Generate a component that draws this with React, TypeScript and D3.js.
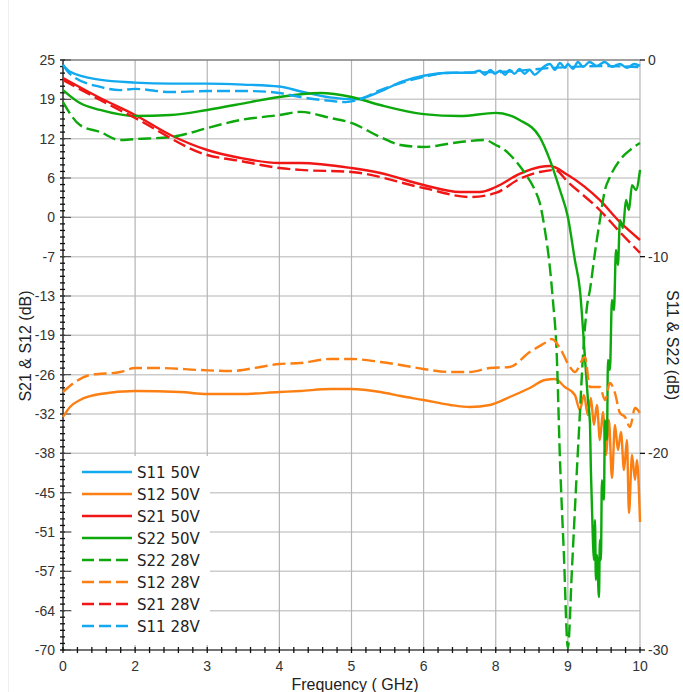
import React from "react";
import * as d3 from "d3";

// frequency tick labels (the source chart skips 1 and 7 GHz)
const freqTicks = [0, 2, 3, 4, 5, 6, 8, 9, 10];
const leftTickLabels = ["25", "19", "12", "6", "0", "-7", "-13", "-19", "-26", "-32", "-38", "-45", "-51", "-57", "-64", "-70"];
const rightTicks = [0, -10, -20, -30];

// [GHz, dB] -- S11 / S22 on right axis, S21 / S12 on left axis
const s11_50 = [
  [0, -0.25], [0.2, -0.6], [1, -1.0], [2, -1.15], [2.5, -1.2], [3, -1.2], [3.5, -1.25], [4, -1.35],
  [4.3, -1.6], [4.7, -1.9], [5.05, -2.0], [5.4, -1.6], [5.7, -1.1], [6, -0.8], [6.75, -0.65], [7.3, -0.65],
  [7.55, -0.55], [7.7, -0.75], [7.85, -0.5], [7.97, -0.7], [8.06, -0.55], [8.13, -0.75], [8.19, -0.5],
  [8.26, -0.7], [8.33, -0.45], [8.4, -0.7], [8.47, -0.5], [8.54, -0.75], [8.61, -0.55], [8.68, -0.3],
  [8.75, -0.2], [8.82, -0.5], [8.89, -0.15], [8.96, -0.4], [9, -0.2], [9.07, -0.45], [9.14, -0.1],
  [9.21, -0.35], [9.3, -0.1], [9.4, -0.3], [9.51, -0.1], [9.61, -0.35], [9.72, -0.2], [9.82, -0.4],
  [9.92, -0.2], [10, -0.3],
];
const s11_28 = [
  [0, -0.25], [0.19, -0.71], [1.03, -1.37], [1.58, -1.53], [2, -1.47], [2.49, -1.63], [3, -1.58],
  [3.6, -1.58], [4, -1.68], [4.29, -1.88], [4.71, -2.08], [4.92, -2.14], [5.13, -1.98], [5.4, -1.53],
  [5.68, -1.17], [6, -0.86], [6.63, -0.66], [8.06, -0.61], [8.75, -0.41], [9.44, -0.31], [10, -0.36],
];
const s21_50 = [
  [0, 22.1], [1.03, 18.88], [2, 16.14], [2.49, 12.93], [3, 10.51], [3.46, 9.22], [4, 8.42], [4.29, 8.42],
  [5, 7.61], [5.4, 6.81], [6, 4.87], [7.01, 3.75], [7.56, 3.75], [8, 4.55], [8.33, 6.65], [8.61, 7.77],
  [8.75, 7.93], [9, 6.48], [9.44, 2.46], [9.72, -1.08], [10, -3.98],
];
const s21_28 = [
  [0, 21.78], [1.03, 18.56], [2, 15.66], [3, 9.7], [3.46, 8.74], [4, 7.61], [4.29, 7.3], [5, 6.97],
  [6, 4.39], [7.29, 2.94], [8, 3.59], [8.33, 5.84], [8.61, 6.97], [8.82, 7.29], [9, 5.36], [9.44, 0.85],
  [9.72, -2.69], [10, -6.07],
];
const s22_50 = [
  [0, -1.53], [0.47, -2.19], [1.03, -2.54], [2, -2.85], [2.49, -2.8], [3, -2.54], [3.6, -2.14], [4, -1.88],
  [4.57, -1.68], [5, -1.88], [5.4, -2.29], [6, -2.75], [7.01, -2.85], [8, -2.69], [8.33, -3.05],
  [8.61, -3.92], [8.75, -5.08], [8.89, -6.61], [9, -7.98], [9.097, -10.17], [9.167, -11.69],
  [9.236, -15.1], [9.278, -17.29], [9.306, -18.46], [9.319, -20.85], [9.347, -24.41], [9.361, -25.42],
  [9.375, -23.39], [9.389, -26.44], [9.403, -25.17], [9.431, -27.31], [9.444, -24.41], [9.458, -25.42],
  [9.472, -21.36], [9.5, -22.37], [9.514, -18.31], [9.542, -19.32], [9.556, -15.25], [9.583, -15.76],
  [9.611, -12.2], [9.639, -12.71], [9.667, -9.66], [9.694, -10.42], [9.722, -8.14], [9.764, -8.54],
  [9.806, -7.12], [9.847, -7.63], [9.889, -6.36], [9.944, -6.61], [10, -5.59],
];
const s22_28 = [
  [0, -2.14], [0.47, -3.31], [1.03, -3.66], [1.58, -4.07], [2, -4.02], [2.49, -3.92], [2.76, -3.71],
  [3, -3.46], [3.46, -3.05], [4, -2.8], [4.29, -2.64], [4.71, -2.95], [5, -3.2], [5.4, -3.92],
  [5.68, -4.32], [6, -4.42], [7.01, -4.17], [7.7, -4.07], [8, -4.32], [8.125, -4.58], [8.264, -5.08],
  [8.403, -5.75], [8.542, -6.61], [8.611, -7.27], [8.681, -8.64], [8.75, -10.53], [8.792, -12.2],
  [8.847, -15.1], [8.889, -20.19], [8.944, -25.07], [9, -29.9], [9.056, -25.93], [9.111, -21.86],
  [9.167, -17.95], [9.208, -15.1], [9.264, -12.56], [9.306, -11.69], [9.375, -9.81], [9.444, -8.14],
  [9.514, -6.61], [9.583, -5.95], [9.722, -5.08], [9.861, -4.58], [10, -4.22],
];
const s12_50 = [
  [0, -32.48], [0.194, -30.87], [0.472, -29.75], [1.03, -28.78], [2, -28.3], [2.625, -28.46], [3, -28.78],
  [3.458, -28.78], [4, -28.46], [4.29, -28.3], [4.708, -27.98], [5, -27.98], [5.403, -28.46], [5.681, -29.1],
  [6, -29.75], [6.74, -30.55], [7.288, -30.87], [7.836, -30.55], [8.194, -29.26], [8.472, -27.81],
  [8.681, -26.53], [8.819, -26.37], [8.958, -27.65], [9.097, -28.94], [9.167, -31.36], [9.222, -28.94],
  [9.278, -32.16], [9.319, -29.42], [9.361, -33.77], [9.403, -30.55], [9.444, -36.19], [9.486, -31.68],
  [9.528, -38.6], [9.569, -32.97], [9.611, -42.31], [9.653, -33.77], [9.694, -37.8], [9.736, -34.9],
  [9.778, -41.02], [9.819, -36.19], [9.847, -47.94], [9.889, -38.6], [9.931, -42.63], [9.958, -39.41],
  [10, -49.39],
];
const s12_28 = [
  [0, -28.46], [0.333, -26.85], [0.75, -25.72], [1.583, -25.24], [2, -24.6], [2.347, -24.6], [2.903, -24.92],
  [3.319, -25.08], [3.736, -24.43], [4, -23.95], [4.292, -23.79], [4.708, -23.14], [5, -23.14],
  [5.403, -23.63], [5.681, -24.11], [6, -24.76], [6.74, -25.24], [7.288, -25.24], [7.836, -24.6],
  [8.194, -24.43], [8.472, -22.02], [8.681, -20.57], [8.778, -19.92], [8.889, -21.37], [9.028, -24.43],
  [9.097, -25.24], [9.236, -22.82], [9.306, -27.65], [9.444, -27.65], [9.514, -29.75], [9.583, -27.01],
  [9.653, -28.62], [9.722, -31.84], [9.792, -32.48], [9.861, -34.09], [9.931, -31.03], [10, -31.84],
];

const BLUE = "#12a9f0";
const ORANGE = "#fb7f12";
const RED = "#f01616";
const GREEN = "#0ca80c";

const series = [
  { name: "S11 50V", data: s11_50, color: BLUE, dash: false, axis: "right" },
  { name: "S12 50V", data: s12_50, color: ORANGE, dash: false, axis: "left" },
  { name: "S21 50V", data: s21_50, color: RED, dash: false, axis: "left" },
  { name: "S22 50V", data: s22_50, color: GREEN, dash: false, axis: "right" },
  { name: "S22 28V", data: s22_28, color: GREEN, dash: true, axis: "right" },
  { name: "S12 28V", data: s12_28, color: ORANGE, dash: true, axis: "left" },
  { name: "S21 28V", data: s21_28, color: RED, dash: true, axis: "left" },
  { name: "S11 28V", data: s11_28, color: BLUE, dash: true, axis: "right" },
];

export default function App() {
  const width = 683,
    height = 692;
  const left = 63,
    right = 640,
    top = 60,
    bottom = 650;
  const step = (right - left) / (freqTicks.length - 1);

  // piecewise scale so the labels sit evenly spaced as in the original
  const x = d3
    .scaleLinear()
    .domain(freqTicks)
    .range(freqTicks.map((_, i) => left + i * step));
  const yLeft = d3.scaleLinear().domain([-70, 25]).range([bottom, top]);
  const yRight = d3.scaleLinear().domain([-30, 0]).range([bottom, top]);
  const leftStep = 95 / (leftTickLabels.length - 1);
  const leftVals = leftTickLabels.map((_, i) => 25 - i * leftStep);

  const xMinor = d3.range((freqTicks.length - 1) * 5 + 1).map(i => left + (i * step) / 5);
  const yMinor = d3.range((leftTickLabels.length - 1) * 6 + 1).map(i => yLeft(25 - (i * leftStep) / 6));

  const lineFor = (axis: string) =>
    d3
      .line<number[]>()
      .x(d => x(d[0]))
      .y(d => (axis === "left" ? yLeft(d[1]) : yRight(d[1])))
      .curve(d3.curveMonotoneX);

  const font = "'Liberation Sans', Arial, sans-serif";
  const legX = 72,
    legY = 456;

  return (
    <svg width={width} height={height} style={{ position: "absolute", left: 0, top: 0, background: "#fff" }}>
      <line x1={8.5} x2={8.5} y1={0} y2={height} stroke="#eeeeee" />
      {/* grid */}
      {leftVals.map((v, i) => (
        <line key={"h" + i} x1={left} x2={right} y1={yLeft(v)} y2={yLeft(v)} stroke="#cccccc" strokeWidth={1.5} />
      ))}
      {freqTicks.map((f, i) => (
        <line key={"v" + i} x1={x(f)} x2={x(f)} y1={top} y2={bottom} stroke="#b5b5b5" strokeWidth={1.2} />
      ))}
      <line x1={left} x2={right} y1={top} y2={top} stroke="#666" strokeWidth={1.2} />

      {/* legend box */}
      <rect x={legX} y={legY} width={138} height={189} fill="#fff" />

      {/* axes */}
      <line x1={left} x2={left} y1={top} y2={bottom} stroke="#111" strokeWidth={1.2} />
      <line x1={left} x2={right} y1={bottom} y2={bottom} stroke="#111" strokeWidth={1.2} />
      {yMinor.map((y, i) => (
        <line key={"ym" + i} x1={left - 3} x2={left + 2} y1={y} y2={y} stroke="#111" strokeWidth={1.3} />
      ))}
      {leftVals.map((v, i) => (
        <line key={"yM" + i} x1={left - 3} x2={left + 8} y1={yLeft(v)} y2={yLeft(v)} stroke="#444" strokeWidth={1} />
      ))}
      {xMinor.map((p, i) => (
        <line key={"xm" + i} x1={p} x2={p} y1={bottom - 3} y2={bottom + 3} stroke="#111" strokeWidth={1.3} />
      ))}
      {rightTicks.map(v => (
        <line key={"rt" + v} x1={right} x2={right + 5} y1={yRight(v)} y2={yRight(v)} stroke="#111" strokeWidth={1.3} />
      ))}

      {/* tick labels */}
      {leftTickLabels.map((t, i) => (
        <text key={"yl" + i} x={left - 8} y={yLeft(leftVals[i]) + 5} textAnchor="end" fontSize={14} fontFamily={font} fill="#333">
          {t}
        </text>
      ))}
      {freqTicks.map(f => (
        <text key={"xl" + f} x={x(f)} y={671} textAnchor="middle" fontSize={14} fontFamily={font} fill="#333">
          {f}
        </text>
      ))}
      {rightTicks.map(v => (
        <text key={"rl" + v} x={right + 8} y={yRight(v) + 5} fontSize={14} fontFamily={font} fill="#333">
          {v}
        </text>
      ))}

      {/* titles */}
      <text x={355} y={690} textAnchor="middle" fontSize={16} fontFamily={font} fill="#222">
        Frequency ( GHz)
      </text>
      <text transform="translate(31,346) rotate(-90)" textAnchor="middle" fontSize={16} fontFamily={font} fill="#222">
        S21 &amp; S12 (dB)
      </text>
      <text transform="translate(667,345) rotate(90)" textAnchor="middle" fontSize={16} fontFamily={font} fill="#222">
        S11 &amp; S22 (dB)
      </text>

      {/* curves */}
      {series.map(s => (
        <path
          key={s.name}
          d={lineFor(s.axis)(s.data) || ""}
          fill="none"
          stroke={s.color}
          strokeWidth={2.4}
          strokeDasharray={s.dash ? "13,5" : undefined}
          strokeLinejoin="round"
        />
      ))}

      {/* legend */}
      {series.map((s, i) => (
        <g key={"lg" + s.name} transform={`translate(0,${472 + i * 22})`}>
          <line x1={82} x2={132} y1={0} y2={0} stroke={s.color} strokeWidth={2.6} strokeDasharray={s.dash ? "12,5" : undefined} />
          <text x={137} y={5.5} fontSize={15} fontFamily="'DejaVu Sans', Verdana, sans-serif" fill="#222">
            {s.name}
          </text>
        </g>
      ))}
    </svg>
  );
}
